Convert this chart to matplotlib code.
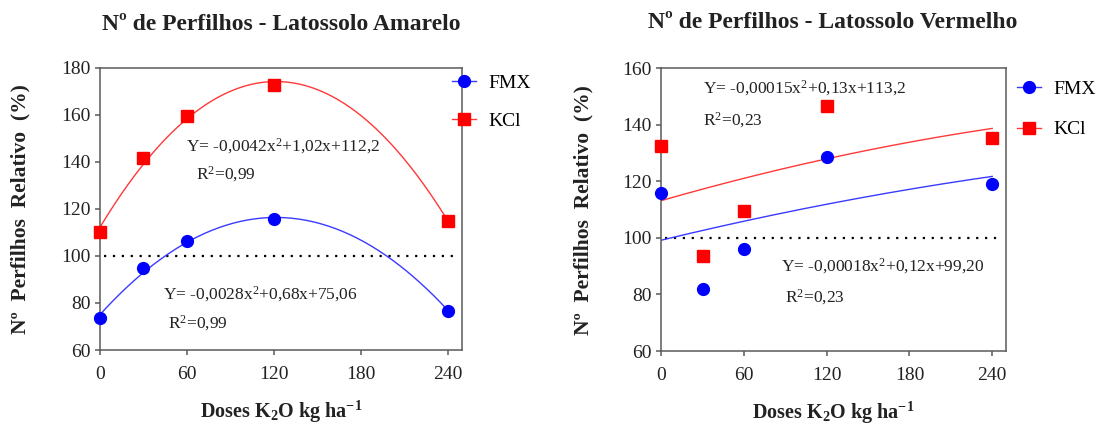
import matplotlib
matplotlib.use('Agg')
import matplotlib.pyplot as plt
import numpy as np
from matplotlib.lines import Line2D

plt.rcParams['font.family'] = ['Liberation Serif', 'DejaVu Serif']
plt.rcParams['mathtext.fontset'] = 'custom'
plt.rcParams['mathtext.rm'] = 'Liberation Serif'
plt.rcParams['mathtext.it'] = 'Liberation Serif:italic'
plt.rcParams['mathtext.bf'] = 'Liberation Serif:bold'

# doses of K2O (kg/ha)
doses = [0, 30, 60, 120, 240]

# relative tiller number (%) - Latossolo Amarelo
amarelo_fmx = [73.5, 95, 106.5, 115.5, 76.5]
amarelo_kcl = [110, 141.5, 159.5, 172.5, 115]
# relative tiller number (%) - Latossolo Vermelho
vermelho_fmx = [116, 82, 96, 128.5, 119]
vermelho_kcl = [132.5, 93.5, 109.5, 146.5, 135.5]

# fitted curves (a, b, c) as drawn
amarelo_fmx_coef = [-0.0028, 0.68, 75.06]
amarelo_kcl_coef = [-0.0042, 1.02, 112.2]
vermelho_fmx_coef = [-0.0001, 0.118, 99.2]
vermelho_kcl_coef = [-0.00014, 0.14, 113.2]

# equation labels
amarelo_kcl_eq = 'Y= -0,0042x$^2$+1,02x+112,2'
amarelo_kcl_r2 = 'R$^2$=0,99'
amarelo_fmx_eq = 'Y= -0,0028x$^2$+0,68x+75,06'
amarelo_fmx_r2 = 'R$^2$=0,99'
vermelho_kcl_eq = 'Y= -0,00015x$^2$+0,13x+113,2'
vermelho_kcl_r2 = 'R$^2$=0,23'
vermelho_fmx_eq = 'Y= -0,00018x$^2$+0,12x+99,20'
vermelho_fmx_r2 = 'R$^2$=0,23'

ref_level = 100
xticks = [0, 60, 120, 180, 240]

blue_pt, blue_ln = '#0000ff', '#3a3aff'
red_pt, red_ln = '#ff0000', '#ff3838'
spine_col = '#5a5a5a'

fig = plt.figure(figsize=(11.04, 4.28), dpi=100)
ax1 = fig.add_axes([0.0906, 0.1822, 0.328, 0.6596])
ax2 = fig.add_axes([0.599, 0.1799, 0.3122, 0.6605])

xx = np.linspace(0, 240, 200)


def style_axes(ax, ylim, yticks):
    ax.set_xlim(0, 250)
    ax.set_ylim(*ylim)
    ax.set_xticks(xticks)
    ax.set_yticks(yticks)
    for sp in ax.spines.values():
        sp.set_color(spine_col)
        sp.set_linewidth(1.1)
    ax.tick_params(axis='both', direction='out', length=3.8, width=1.1,
                   color=spine_col, labelsize=14, labelcolor='#222222')
    ax.tick_params(axis='x', pad=8)
    ax.tick_params(axis='y', pad=3)
    ax.set_xlabel('Doses K$_\\mathbf{2}$O kg ha$^\\mathbf{-1}$', fontsize=14.5,
                  fontweight='bold', color='#222222')
    ax.xaxis.label.set_va('center')
    ax.xaxis.set_label_coords(0.5, -0.22)
    ax.set_ylabel('Nº  Perfilhos  Relativo  (%)', fontsize=15.5,
                  fontweight='bold', color='#222222')
    ax.yaxis.label.set_va('center')
    ax.axhline(ref_level, xmin=0.01, xmax=0.98, color='black', lw=1.6,
               ls=(0, (1, 3)))


def draw_panel(ax, fmx, kcl, fmx_coef, kcl_coef):
    ax.plot(xx, np.polyval(kcl_coef, xx), color=red_ln, lw=1.0)
    ax.plot(xx, np.polyval(fmx_coef, xx), color=blue_ln, lw=1.0)
    ax.plot(doses, kcl, ls='none', marker='s', ms=8, color=red_pt, clip_on=False, zorder=5)
    ax.plot(doses, fmx, ls='none', marker='o', ms=8.5, color=blue_pt, clip_on=False, zorder=5)


style_axes(ax1, (60, 180), range(60, 181, 20))
style_axes(ax2, (60, 160), range(60, 161, 20))
ax1.yaxis.set_label_coords(-0.221, 0.5)
ax2.yaxis.set_label_coords(-0.225, 0.5)

draw_panel(ax1, amarelo_fmx, amarelo_kcl, amarelo_fmx_coef, amarelo_kcl_coef)
draw_panel(ax2, vermelho_fmx, vermelho_kcl, vermelho_fmx_coef, vermelho_kcl_coef)

eq_kw = dict(fontsize=12.5, va='center', ha='left', color='#222222')
ax1.text(59.5, 146.6, amarelo_kcl_eq, **eq_kw)
ax1.text(66, 134.6, amarelo_kcl_r2, **eq_kw)
ax1.text(43.6, 83.9, amarelo_fmx_eq, **eq_kw)
ax1.text(47, 71.2, amarelo_fmx_r2, **eq_kw)
ax2.text(30, 152.9, vermelho_kcl_eq, **eq_kw)
ax2.text(30, 141.8, vermelho_kcl_r2, **eq_kw)
ax2.text(87, 90, vermelho_fmx_eq, **eq_kw)
ax2.text(90, 78.9, vermelho_fmx_r2, **eq_kw)

handles = [Line2D([], [], color=blue_ln, lw=1.0, marker='o', ms=8.5,
                  markerfacecolor=blue_pt, markeredgecolor=blue_pt),
           Line2D([], [], color=red_ln, lw=1.0, marker='s', ms=8,
                  markerfacecolor=red_pt, markeredgecolor=red_pt)]
for ax, anchor, lsp in [(ax1, (0.972, 0.976), 1.05), (ax2, (1.032, 0.957), 1.17)]:
    ax.legend(handles, ['FMX', 'KCl'], loc='upper left', bbox_to_anchor=anchor,
              frameon=False, fontsize=14, borderpad=0, borderaxespad=0,
              handlelength=1.25, handletextpad=0.6, labelspacing=lsp)

fig.text(0.2545, 1 - 24 / 428, 'Nº de Perfilhos - Latossolo Amarelo', fontsize=17,
         fontweight='bold', ha='center', va='center', color='#222222')
fig.text(0.7545, 1 - 22 / 428, 'Nº de Perfilhos - Latossolo Vermelho', fontsize=17,
         fontweight='bold', ha='center', va='center', color='#222222')

fig.savefig('out.png', dpi=100)
